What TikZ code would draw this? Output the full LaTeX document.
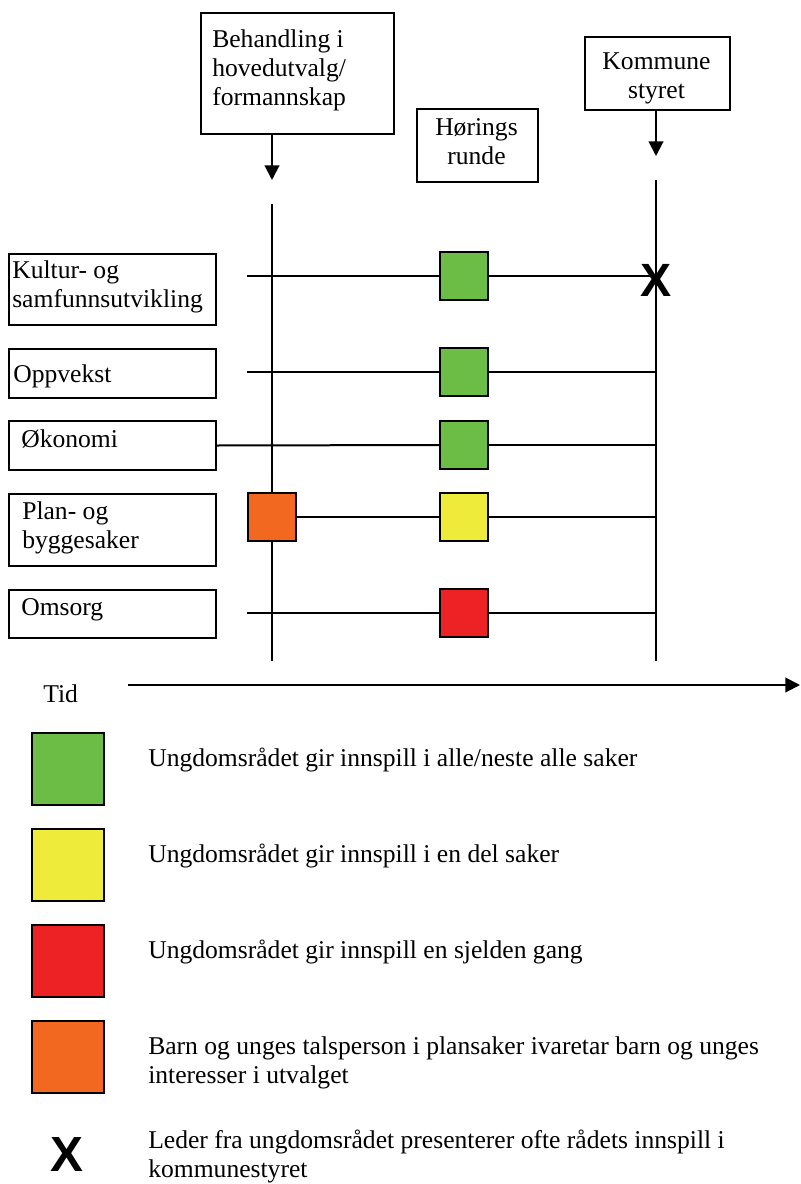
\documentclass[tikz,border=0pt]{standalone}
\usepackage{fontspec}
\setmainfont{Liberation Serif}
\newfontfamily\xfont{Liberation Sans}
\usetikzlibrary{arrows.meta,calc}
\definecolor{cgreen}{RGB}{108,189,69}
\definecolor{cyellow}{RGB}{238,235,59}
\definecolor{cred}{RGB}{237,34,36}
\definecolor{corange}{RGB}{243,104,33}
\tikzset{
  ln/.style={line width=1.5pt},
  arr/.style={ln,-{Triangle[length=11pt,width=11pt]}},
  boxnode/.style={draw,line width=1.5pt,inner sep=0pt,anchor=north west,fill=white},
  sq/.style={draw,line width=1.5pt,inner sep=0pt,minimum size=36pt},
  lsq/.style={draw,line width=1.5pt,inner sep=0pt,minimum size=54pt},
  txt/.style={inner sep=0pt,font=\fontsize{19.2}{21.75}\selectfont,align=left,anchor=base west},
  ctxt/.style={inner sep=0pt,font=\fontsize{19.2}{21.75}\selectfont,align=center,anchor=base},
  xmark/.style={inner sep=0pt,font=\xfont\bfseries\fontsize{35}{35}\selectfont}
}
\begin{document}
\begin{tikzpicture}[x=0.75pt,y=-0.75pt]
\useasboundingbox (0,0) rectangle (800,1184);

% top boxes (multi-line text nodes: base = last line's baseline)
\node[boxnode,minimum width=193*0.75pt,minimum height=121*0.75pt] (beh) at (200,12) {};
\node[txt] (behT) at (212,106) {Behandling i\\hovedutvalg/\\formannskap};
\node[boxnode,minimum width=121*0.75pt,minimum height=73*0.75pt] (hor) at (416,108) {};
\node[ctxt] (horT) at (476.5,165) {Hørings\\runde};
\node[boxnode,minimum width=145*0.75pt,minimum height=73*0.75pt] (kom) at (584,36) {};
\node[ctxt] (komT) at (656.5,99) {Kommune\\styret};

% vertical lines
\coordinate (v1t) at (272,204);
\coordinate (v1b) at (272,661);
\coordinate (v2t) at (656,180);
\coordinate (v2b) at (656,661);
\coordinate (a1) at (272,180);
\coordinate (a2) at (656,156);
\draw[arr] (beh.south -| v1t) -- (a1);
\draw[arr] (kom.south -| v2t) -- (a2);
\draw[ln] (v1t) -- (v1b);
\draw[ln] (v2t) -- (v2b);

% row boxes
\node[boxnode,minimum width=207*0.75pt,minimum height=71*0.75pt] (kul) at (8,253) {};
\node[txt] (kulT) at (12,307) {Kultur- og\\samfunnsutvikling};
\node[boxnode,minimum width=207*0.75pt,minimum height=49*0.75pt] (opp) at (8,348) {};
\node[txt] (oppT) at (13,382) {Oppvekst};
\node[boxnode,minimum width=207*0.75pt,minimum height=49*0.75pt] (oko) at (8,420) {};
\node[txt] (okoT) at (21,447) {Økonomi};
\node[boxnode,minimum width=207*0.75pt,minimum height=72*0.75pt] (pla) at (8,493) {};
\node[txt] (plaT) at (22,548) {Plan- og\\byggesaker};
\node[boxnode,minimum width=207*0.75pt,minimum height=48*0.75pt] (oms) at (8,589) {};
\node[txt] (omsT) at (21,615) {Omsorg};

% squares
\node[sq,fill=cgreen] (s1) at (464,276) {};
\node[sq,fill=cgreen] (s2) at (464,372) {};
\node[sq,fill=cgreen] (s3) at (464,445) {};
\node[sq,fill=cyellow] (s4) at (464,517) {};
\node[sq,fill=cred] (s5) at (464,613) {};
\node[sq,fill=corange] (so) at (272,517) {};

% row start coordinates
\coordinate (r1) at (247,276);
\coordinate (r2) at (247,372);
\coordinate (r5) at (247,613);

% row lines
\draw[ln] (r1) -- (s1.west);
\draw[ln] (s1.east) -- (s1.east -| v2t);
\draw[ln] (r2) -- (s2.west);
\draw[ln] (s2.east) -- (s2.east -| v2t);
\draw[ln] (oko.east) -- (s3.west);
\draw[ln] (s3.east) -- (s3.east -| v2t);
\draw[ln] (so.east) -- (s4.west);
\draw[ln] (s4.east) -- (s4.east -| v2t);
\draw[ln] (r5) -- (s5.west);
\draw[ln] (s5.east) -- (s5.east -| v2t);

% X mark
\node[xmark] (x1) at (656,280) {X};

% time axis
\node[txt] (tid) at (43,702) {Tid};
\coordinate (t0) at (128,685);
\coordinate (t1) at (800,685);
\draw[arr] (t0) -- (t1);

% legend
\node[lsq,fill=cgreen] (l1) at (68,769) {};
\node[txt] (l1T) at (148,766) {Ungdomsrådet gir innspill i alle/neste alle saker};
\node[lsq,fill=cyellow] (l2) at (68,865) {};
\node[txt] (l2T) at (148,862) {Ungdomsrådet gir innspill i en del saker};
\node[lsq,fill=cred] (l3) at (68,961) {};
\node[txt] (l3T) at (148,958) {Ungdomsrådet gir innspill en sjelden gang};
\node[lsq,fill=corange] (l4) at (68,1057) {};
\node[txt] (l4T) at (148,1083) {Barn og unges talsperson i plansaker ivaretar barn og unges\\interesser i utvalget};
\node[xmark,font=\xfont\bfseries\fontsize{37}{37}\selectfont] (lx) at (67,1155) {X};
\node[txt] (lxT) at (148,1177) {Leder fra ungdomsrådet presenterer ofte rådets innspill i\\kommunestyret};
\end{tikzpicture}
\end{document}
